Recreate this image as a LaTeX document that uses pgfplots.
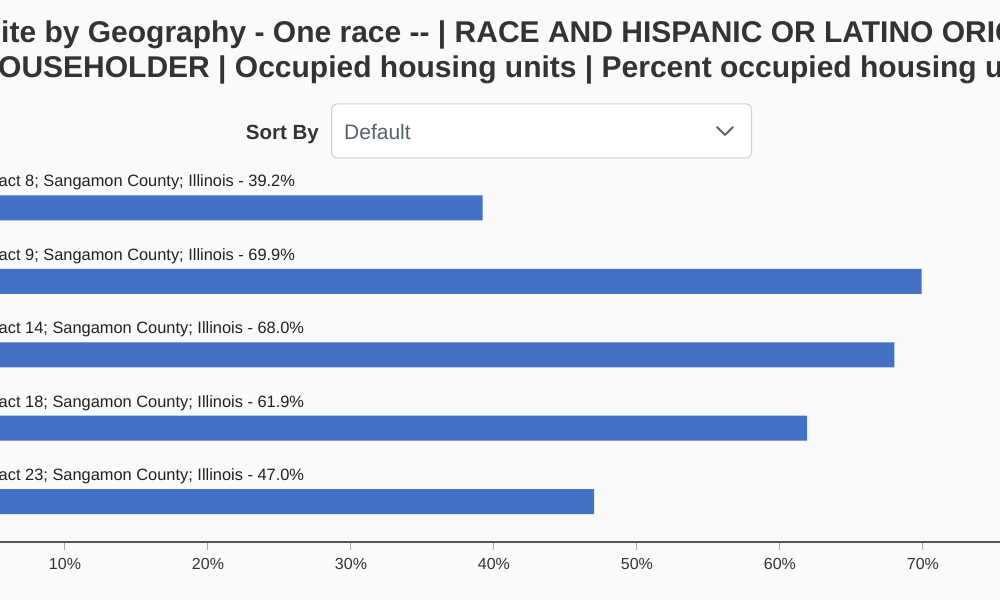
\documentclass[border=0pt]{standalone}
\usepackage{fontspec}
\setmainfont{Liberation Sans}
\usepackage{pgfplots}
\pgfplotsset{compat=1.18}

\definecolor{pagebg}{HTML}{FAFAFA}
\definecolor{titlegray}{HTML}{333333}
\definecolor{barblue}{HTML}{4371C4}
\definecolor{axisgray}{HTML}{555555}
\definecolor{tickgray}{HTML}{A8A8A8}
\definecolor{boxgray}{HTML}{CFCFCF}
\definecolor{selgray}{HTML}{55636E}

\begin{document}
\begin{tikzpicture}[x=1pt,y=1pt]
\useasboundingbox (0,0) rectangle (1000,600);
\clip (0,0) rectangle (1000,600);
\fill[pagebg] (0,0) rectangle (1000,600);

% title, cut off at both sides like the screenshot
\node[anchor=base west, inner sep=0pt, text=titlegray,
      font=\fontsize{30}{36}\selectfont\bfseries]
  at (1,557) {\llap{Wh}ite by Geography - One race -{}- | RACE AND HISPANIC OR LATINO ORIGIN OF};
\node[anchor=base west, inner sep=0pt, text=titlegray,
      font=\fontsize{30}{36}\selectfont\bfseries]
  at (-2,522) {\llap{H}OUSEHOLDER | Occupied housing units | Percent occupied housing units};

% sort control
\node[anchor=base east, inner sep=0pt, text=titlegray,
      font=\fontsize{20.5}{24}\selectfont\bfseries] at (319,460) {Sort By};
\draw[boxgray, fill=white, line width=1pt, rounded corners=5pt]
  (331.5,442) rectangle (751.5,496);
\node[anchor=base west, inner sep=0pt, text=selgray,
      font=\fontsize{21}{25}\selectfont] at (344,460) {Default};
\draw[selgray, line width=1.8pt, line cap=round, line join=round]
  (717,473) -- (725,465) -- (733,473);

\begin{axis}[
  at={(-78pt,58pt)}, anchor=south west,
  scale only axis, width=1144pt, height=374.4pt,
  xbar, bar width=25pt, bar shift=0pt,
  xmin=0, xmax=80, ymin=-0.55, ymax=4.55,
  axis x line*=bottom, axis y line*=left,
  x axis line style={draw=axisgray, line width=1.5pt, -},
  y axis line style={draw=none},
  tick align=outside, major tick length=8pt,
  xtick={10,20,30,40,50,60,70},
  xticklabels={10\%,20\%,30\%,40\%,50\%,60\%,70\%},
  xtick style={draw=tickgray, line width=1pt},
  xticklabel style={font=\fontsize{16}{19}\selectfont, text=titlegray, yshift=-5pt},
  ytick={0,1,2,3,4},
  ytick style={draw=none},
  yticklabels={
    Census Tract 23; Sangamon County; Illinois - 47.0\%,
    Census Tract 18; Sangamon County; Illinois - 61.9\%,
    Census Tract 14; Sangamon County; Illinois - 68.0\%,
    Census Tract 9; Sangamon County; Illinois - 69.9\%,
    Census Tract 8; Sangamon County; Illinois - 39.2\%},
  yticklabel style={anchor=base west, inner sep=0pt, xshift=9.5pt, yshift=21pt,
    font=\fontsize{16.4}{19}\selectfont, text=black!87},
]
\addplot[draw=none, fill=barblue] coordinates {
  (47.0,0) (61.9,1) (68.0,2) (69.9,3) (39.2,4)};
\end{axis}
\end{tikzpicture}
\end{document}
